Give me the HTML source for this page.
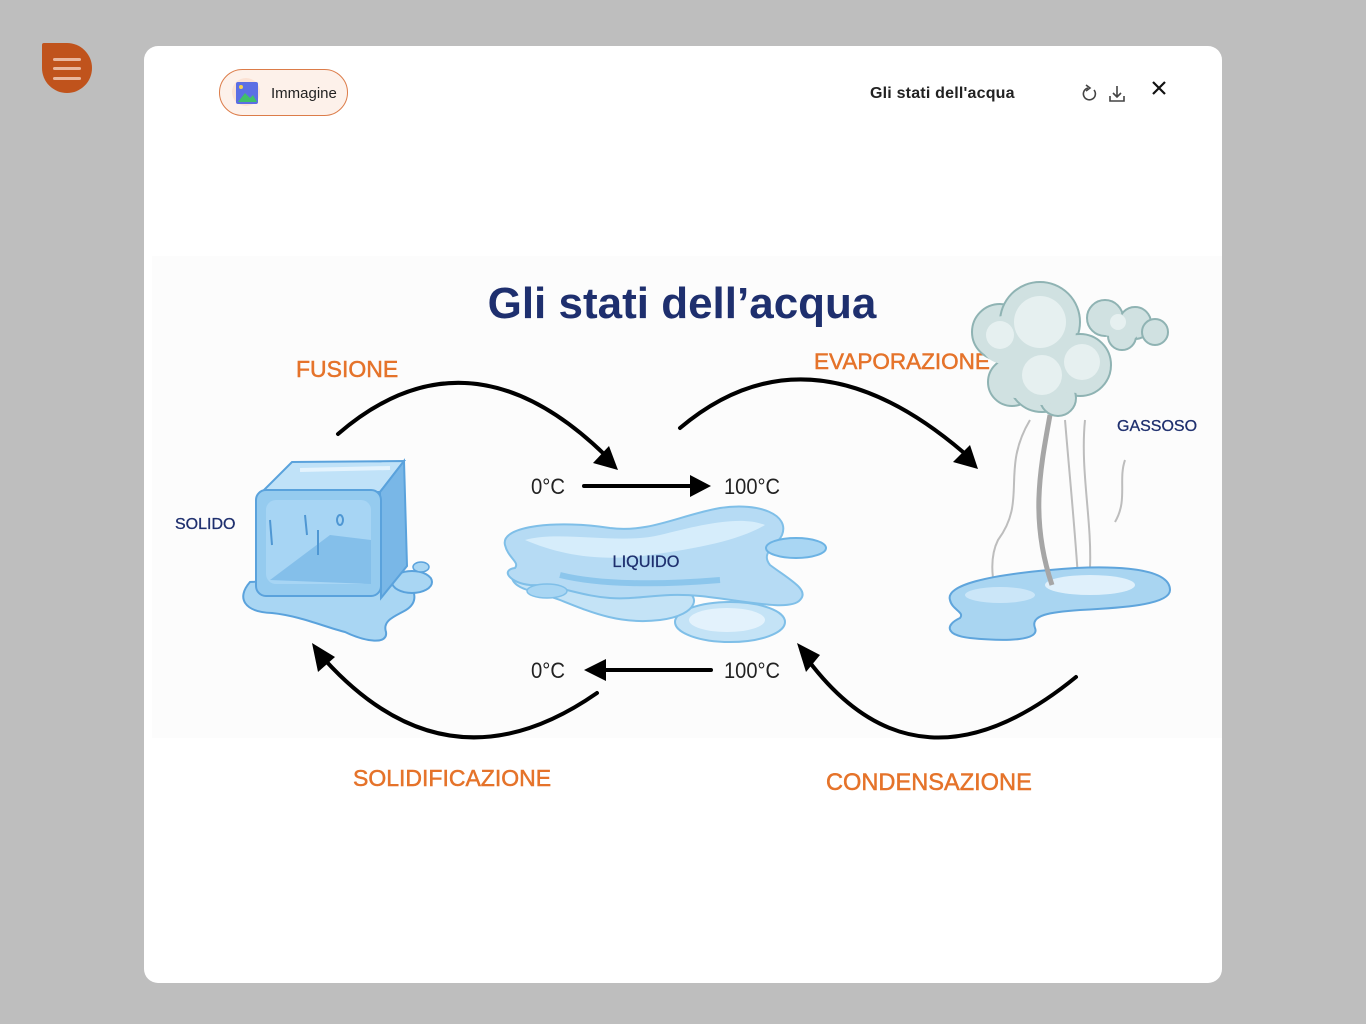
<!DOCTYPE html>
<html><head><meta charset="utf-8">
<style>
html,body{margin:0;padding:0;}
body{width:1366px;height:1024px;background:#bebebe;position:relative;overflow:hidden;font-family:"Liberation Sans",sans-serif;}
.menu{position:absolute;left:42px;top:43px;width:50px;height:50px;background:#c0531c;border-radius:2px 50% 50% 50%;}
.menu i{position:absolute;left:11px;width:28px;height:3px;border-radius:2px;background:#e9b79e;}
.card{position:absolute;left:144px;top:46px;width:1078px;height:937px;background:#fff;border-radius:14px;}
.pill{position:absolute;left:219px;top:69px;width:127px;height:45px;border:1.5px solid #dc7c49;border-radius:24px;background:#fdf1ea;}
.pill .ic{position:absolute;left:12px;top:8px;width:28px;height:28px;border-radius:50%;background:#fbe2d4;}
.pill span{position:absolute;left:51px;top:15px;font-size:15px;color:#222;}
.htitle{position:absolute;left:870px;top:85px;font-size:16px;font-weight:bold;color:#222;letter-spacing:0.2px;}
svg{position:absolute;left:0;top:0;}
</style></head><body>
<div class="menu"><i style="top:15px"></i><i style="top:24px"></i><i style="top:34px"></i></div>
<div class="card"></div>
<div class="pill"><div class="ic"></div><span>Immagine</span></div>
<div class="htitle">Gli stati dell'acqua</div>
<svg width="1366" height="1024" viewBox="0 0 1366 1024">
  <!-- pill icon -->
  <rect x="236" y="82" width="22" height="22" rx="2" fill="#5b6ee4"/>
  <path d="M238,102 L245,93 L250,98 L253,95 L257,102 Z" fill="#3fbf6a"/>
  <circle cx="241" cy="87" r="2" fill="#f5d04a"/>
  <!-- header icons -->
  <path d="M1094,90 A6,6 0 1 1 1088,88" fill="none" stroke="#444" stroke-width="1.6"/>
  <path d="M1086,85 L1090,88 L1086,91" fill="none" stroke="#444" stroke-width="1.6"/>
  <path d="M1117,86 L1117,97 M1113,93 L1117,97 L1121,93 M1110,96 L1110,101 L1124,101 L1124,96" fill="none" stroke="#444" stroke-width="1.6"/>
  <path d="M1153,82 L1165,94 M1165,82 L1153,94" stroke="#111" stroke-width="2.2"/>

  <!-- illustration background -->
  <rect x="152" y="256" width="1070" height="482" fill="#fcfcfc"/>

  <text x="682" y="318" text-anchor="middle" font-family="Liberation Sans, sans-serif" font-size="44" font-weight="bold" fill="#1e2f6e">Gli stati dell’acqua</text>

  <!-- orange labels -->
  <g font-family="Liberation Sans, sans-serif" fill="#e5732a" stroke="#e5732a" stroke-width="0.5" font-size="23">
    <text x="296" y="377">FUSIONE</text>
    <text x="814" y="369" font-size="22.5">EVAPORAZIONE</text>
    <text x="353" y="786">SOLIDIFICAZIONE</text>
    <text x="826" y="790" font-size="23.6">CONDENSAZIONE</text>
  </g>
  <g font-family="Liberation Sans, sans-serif" fill="#1e2f6e" stroke="#1e2f6e" stroke-width="0.3" font-size="16">
    <text x="175" y="529">SOLIDO</text>
    <text x="1117" y="431">GASSOSO</text>
  </g>

  <!-- ice cube puddle -->
  <path d="M250,582 C236,598 244,612 272,613 C300,616 322,626 345,632 C366,642 388,645 386,632 C382,620 396,616 406,610 C422,600 412,585 402,574 Z" fill="#a9d6f3" stroke="#5aa2dc" stroke-width="2"/>
  <ellipse cx="412" cy="582" rx="20" ry="11" fill="#a9d6f3" stroke="#5aa2dc" stroke-width="2"/>
  <ellipse cx="421" cy="567" rx="8" ry="5" fill="#a9d6f3" stroke="#5aa2dc" stroke-width="1.5"/>
  <!-- cube -->
  <polygon points="262,492 292,462 404,461 380,492" fill="#c0e2f8" stroke="#5aa2dc" stroke-width="2"/>
  <polygon points="380,492 404,461 407,566 381,598" fill="#79b7e7" stroke="#5aa2dc" stroke-width="2"/>
  <rect x="256" y="490" width="125" height="106" rx="10" fill="#95cbef" stroke="#5aa2dc" stroke-width="2"/>
  <rect x="266" y="500" width="105" height="84" rx="10" fill="#a7d5f4"/>
  <path d="M270,580 L330,535 L371,540 L371,584 Z" fill="#84bfea"/>
  <path d="M305,515 L307,535 M318,530 L318,555 M270,520 L272,545" stroke="#4f97d3" stroke-width="2"/>
  <ellipse cx="340" cy="520" rx="3" ry="5" fill="none" stroke="#4f97d3" stroke-width="2"/>
  <path d="M300,470 L390,468" stroke="#e4f3fd" stroke-width="4"/>

  <!-- liquid puddle -->
  <ellipse cx="730" cy="622" rx="55" ry="20" fill="#c4e3f6" stroke="#7fbfe8" stroke-width="2"/>
  <ellipse cx="727" cy="620" rx="38" ry="12" fill="#e3f2fc"/>
  <path d="M512,575 C520,565 560,570 590,580 C620,590 640,590 680,590 C702,593 700,615 660,620 C620,625 590,612 560,600 C540,592 510,590 512,575 Z" fill="#c4e3f6" stroke="#7fbfe8" stroke-width="2"/>
  <path d="M505,545 C500,525 560,520 610,528 C650,533 680,515 720,508 C760,502 790,515 782,535 C776,548 760,552 770,565 C790,580 810,590 800,600 C790,612 740,600 700,596 C660,592 640,600 610,598 C580,596 560,585 530,585 C510,583 500,570 515,568 C520,562 508,558 505,545 Z" fill="#b6dbf4" stroke="#7fbfe8" stroke-width="2"/>
  <path d="M525,540 C560,530 620,545 660,535 C700,525 740,515 765,525 C740,540 700,548 650,555 C600,562 560,555 525,540 Z" fill="#d6edfb"/>
  <path d="M560,575 C600,585 660,585 720,580" stroke="#8cc6ec" stroke-width="6" fill="none"/>
  <ellipse cx="796" cy="548" rx="30" ry="10" fill="#a9d6f3" stroke="#6cb3e4" stroke-width="2"/>
  <ellipse cx="547" cy="591" rx="20" ry="7" fill="#a9d6f3" stroke="#7fbfe8" stroke-width="1.5"/>
  <text x="646" y="567" text-anchor="middle" font-family="Liberation Sans, sans-serif" font-size="16.3" fill="#1e2f6e" stroke="#1e2f6e" stroke-width="0.3">LIQUIDO</text>

  <!-- gas strands -->
  <g fill="none" stroke="#bdbdbd" stroke-width="2">
    <path d="M1030,420 C1000,470 1028,500 998,540 C988,560 994,585 995,590"/>
    <path d="M1065,420 C1070,480 1075,530 1078,578"/>
    <path d="M1085,420 C1080,470 1092,520 1090,568"/>
    <path d="M1125,460 C1118,480 1128,500 1115,522"/>
  </g>
  <!-- gas puddle -->
  <path d="M950,600 C945,585 990,575 1050,570 C1100,565 1170,565 1170,590 C1170,605 1120,608 1080,610 C1050,612 1030,615 1035,628 C1040,640 1010,642 970,638 C945,635 945,625 960,618 C965,612 952,610 950,600 Z" fill="#a9d5f1" stroke="#5fa5dc" stroke-width="2"/>
  <ellipse cx="1090" cy="585" rx="45" ry="10" fill="#dff0fb"/>
  <ellipse cx="1000" cy="595" rx="35" ry="8" fill="#cbe6f8"/>
  <path d="M1050,415 C1040,470 1030,520 1052,585" fill="none" stroke="#a6a6a6" stroke-width="5"/>
  <!-- cloud -->
  <g fill="#d0e1e1" stroke="#8fb3b3" stroke-width="2">
    <circle cx="1105" cy="318" r="18"/>
    <circle cx="1135" cy="323" r="16"/>
    <circle cx="1155" cy="332" r="13"/>
    <circle cx="1122" cy="336" r="14"/>
    <circle cx="1000" cy="332" r="28"/>
    <circle cx="1040" cy="322" r="40"/>
    <circle cx="1012" cy="382" r="24"/>
    <circle cx="1042" cy="378" r="34"/>
    <circle cx="1080" cy="365" r="31"/>
    <circle cx="1058" cy="398" r="18"/>
  </g>
  <g fill="#d0e1e1">
    <circle cx="1040" cy="330" r="36"/>
    <circle cx="1042" cy="375" r="30"/>
    <circle cx="1078" cy="365" r="28"/>
    <circle cx="1004" cy="340" r="24"/>
    <circle cx="1015" cy="378" r="20"/>
    <circle cx="1128" cy="327" r="13"/>
    <circle cx="1110" cy="322" r="14"/>
  </g>
  <g fill="#e6f0f0">
    <circle cx="1040" cy="322" r="26"/>
    <circle cx="1042" cy="375" r="20"/>
    <circle cx="1082" cy="362" r="18"/>
    <circle cx="1000" cy="335" r="14"/>
    <circle cx="1118" cy="322" r="8"/>
  </g>

  <!-- curved arrows -->
  <g fill="none" stroke="#000" stroke-width="4" stroke-linecap="round">
    <path d="M338,434 Q468,322 605,455"/>
    <path d="M680,428 Q808,320 963,452"/>
    <path d="M597,693 Q449,796 325,660"/>
    <path d="M1076,677 Q918,806 808,660"/>
    <path d="M584,486 L694,486"/>
    <path d="M606,670 L711,670"/>
  </g>
  <g fill="#000">
    <polygon points="618,470 593,463 609,446"/>
    <polygon points="978,469 953,462 970,445"/>
    <polygon points="312,643 335,657 318,672"/>
    <polygon points="797,643 820,655 806,672"/>
    <polygon points="711,486 690,475 690,497"/>
    <polygon points="584,670 606,659 606,681"/>
  </g>
  <g font-family="Liberation Sans, sans-serif" font-size="22" fill="#222">
    <text x="531" y="494" textLength="34" lengthAdjust="spacingAndGlyphs">0°C</text>
    <text x="724" y="494" textLength="56" lengthAdjust="spacingAndGlyphs">100°C</text>
    <text x="531" y="678" textLength="34" lengthAdjust="spacingAndGlyphs">0°C</text>
    <text x="724" y="678" textLength="56" lengthAdjust="spacingAndGlyphs">100°C</text>
  </g>
</svg>
</body></html>
